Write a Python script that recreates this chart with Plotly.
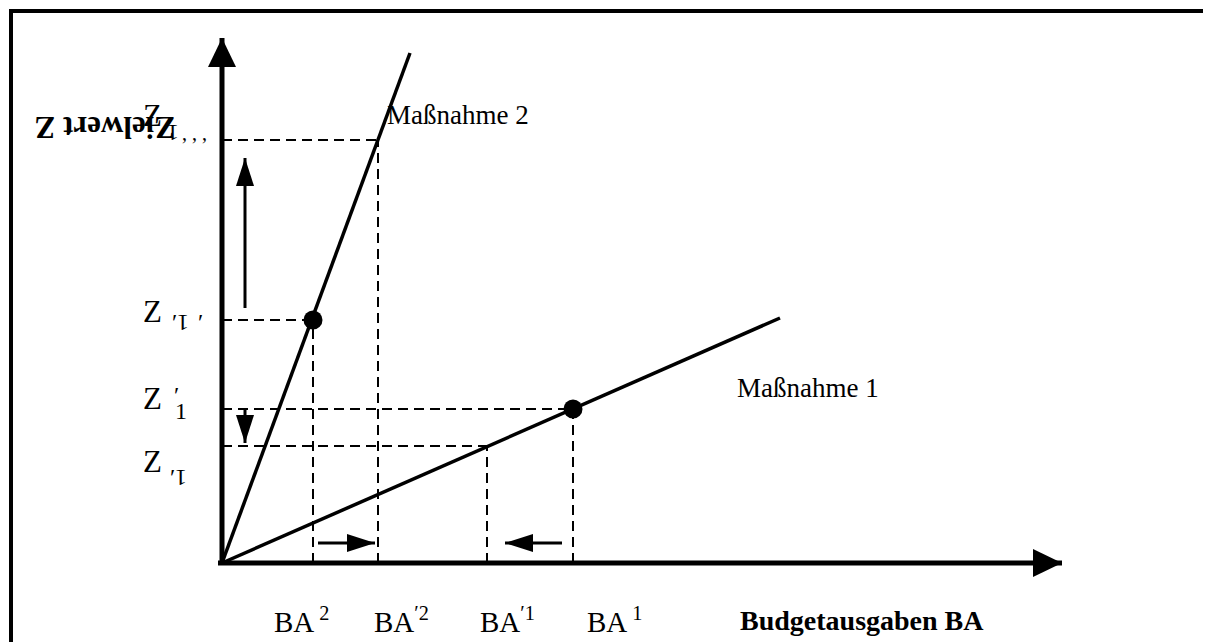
import plotly.graph_objects as go

# Fenstergröße, Seitenrand des Browsers und Lage des Achsenursprungs (px)
BREITE, HOEHE = 1211, 642
RAND = 8
UX, UY = 222, 563

# Maßnahmen-Geraden (Budgetausgaben -> Zielwert)
m1_x = [0, 558]
m1_y = [0, 245]
m2_x = [0, 188]
m2_y = [0, 510]

# Ausgangspunkte
punkte_x = [91, 351]
punkte_y = [243, 154]

# Budgetausgaben BA2, BA2', BA1', BA1 und zugehörige Zielwerte
ba_werte = [91, 156, 265, 351]
ba_hoehe = [243, 423, 117, 154]
ba_labels = ["BA<sup> 2</sup>", "BA<sup>′2</sup>", "BA<sup>′1</sup>", "BA<sup> 1</sup>"]

# Zielwerte Z1, Z1', Z1'', Z1''' und Länge der Hilfslinien
z_werte = [117, 154, 243, 423]
z_bis = [265, 351, 91, 156]

# Achsen
x_achse = [-4, 840]
y_achse = [-2, 525]

# Verschiebungspfeile (start, spitze)
pfeile = [
    ((23, 255), (23, 405)),
    ((23, 154), (23, 120)),
    ((96, 20), (153, 20)),
    ((340, 20), (283, 20)),
]

SCHRIFT = "Liberation Serif"


def spitze(start, tip, laenge, breite):
    """Dreieck für eine Pfeilspitze als SVG-Pfad (Datenkoordinaten)."""
    dx, dy = tip[0] - start[0], tip[1] - start[1]
    n = (dx ** 2 + dy ** 2) ** 0.5
    ux, uy = dx / n, dy / n
    bx, by = tip[0] - laenge * ux, tip[1] - laenge * uy
    px, py = -uy * breite / 2, ux * breite / 2
    return (f"M {tip[0]} {tip[1]} L {bx + px} {by + py} "
            f"L {bx - px} {by - py} Z")


fig = go.Figure()

# gestrichelte Hilfslinien
for z, xb in zip(z_werte, z_bis):
    fig.add_trace(go.Scatter(x=[0, xb], y=[z, z], mode='lines',
                             line=dict(color='black', width=2, dash='10px,6px')))
for b, h in zip(ba_werte, ba_hoehe):
    fig.add_trace(go.Scatter(x=[b, b], y=[0, h], mode='lines',
                             line=dict(color='black', width=2, dash='10px,6px')))

# Maßnahmen
fig.add_trace(go.Scatter(x=m1_x, y=m1_y, mode='lines',
                         line=dict(color='black', width=3.5)))
fig.add_trace(go.Scatter(x=m2_x, y=m2_y, mode='lines',
                         line=dict(color='black', width=3.5)))
fig.add_trace(go.Scatter(x=punkte_x, y=punkte_y, mode='markers',
                         marker=dict(color='black', size=19)))

# Achsen
fig.add_trace(go.Scatter(x=x_achse, y=[0, 0], mode='lines',
                         line=dict(color='black', width=5)))
fig.add_trace(go.Scatter(x=[0, 0], y=y_achse, mode='lines',
                         line=dict(color='black', width=5)))
fig.add_shape(type='path', path=spitze((0, 0), (x_achse[1], 0), 29, 28),
              fillcolor='black', line=dict(width=0), xref='x', yref='y')
fig.add_shape(type='path', path=spitze((0, 0), (0, y_achse[1]), 29, 28),
              fillcolor='black', line=dict(width=0), xref='x', yref='y')

# Verschiebungspfeile
for start, tip in pfeile:
    fig.add_trace(go.Scatter(x=[start[0], tip[0]], y=[start[1], tip[1]], mode='lines',
                             line=dict(color='black', width=3)))
    fig.add_shape(type='path', path=spitze(start, tip, 28, 18),
                  fillcolor='black', line=dict(width=0), xref='x', yref='y')

# Rahmen
fig.add_shape(type='line', x0=-213, x1=BREITE - UX, y0=552, y1=552,
              line=dict(color='black', width=4), xref='x', yref='y')
fig.add_shape(type='line', x0=-211, x1=-211, y0=552, y1=UY - HOEHE,
              line=dict(color='black', width=4), xref='x', yref='y')


def text(t, x, y, size=27, bold=False, winkel=0, xanchor='left'):
    if bold:
        t = f"<b>{t}</b>"
    fig.add_annotation(x=x, y=y, text=t, showarrow=False, textangle=winkel,
                       xanchor=xanchor, yanchor='middle', xref='x', yref='y',
                       font=dict(family=SCHRIFT, size=size, color='black'))


text("Maßnahme 2", 163, 448)
text("Maßnahme 1", 513, 175)
text("Budgetausgaben BA", 516, -57, size=28, bold=True)
for lab, xl in zip(ba_labels, [50, 150, 256, 363]):
    text(lab, xl, -57, size=29)

# Achsentitel (auf dem Kopf stehend)
text("Zielwert Z", -117, 435, size=31, bold=True, winkel=180, xanchor='center')

# Z-Beschriftungen
for zy in [448, 252, 165, 102]:
    text("Z", -70, zy, size=31, xanchor='center')
# Indizes
text("1", -49, 430, size=24, winkel=180, xanchor='center')
text(", , ,", -28, 430, size=20, xanchor='center')
text("′", -48, 241, size=24, xanchor='center')
text("1", -39, 240, size=24, winkel=180, xanchor='center')
text("′", -22, 241, size=24, xanchor='center')
text("′", -46, 168, size=24, xanchor='center')
text("1", -41, 152, size=24, xanchor='center')
text("′", -50, 86, size=24, xanchor='center')
text("1", -41, 85, size=24, winkel=180, xanchor='center')

# Das Diagramm beginnt nach dem Seitenrand des Browsers
fig.update_layout(
    width=BREITE - RAND, height=HOEHE - RAND,
    margin=dict(l=0, r=0, t=0, b=0),
    paper_bgcolor='white', plot_bgcolor='white',
    showlegend=False,
    xaxis=dict(range=[RAND - UX, BREITE - UX], visible=False, fixedrange=True),
    yaxis=dict(range=[UY - HOEHE, UY - RAND], visible=False, fixedrange=True),
)

fig.write_html("out.html")
